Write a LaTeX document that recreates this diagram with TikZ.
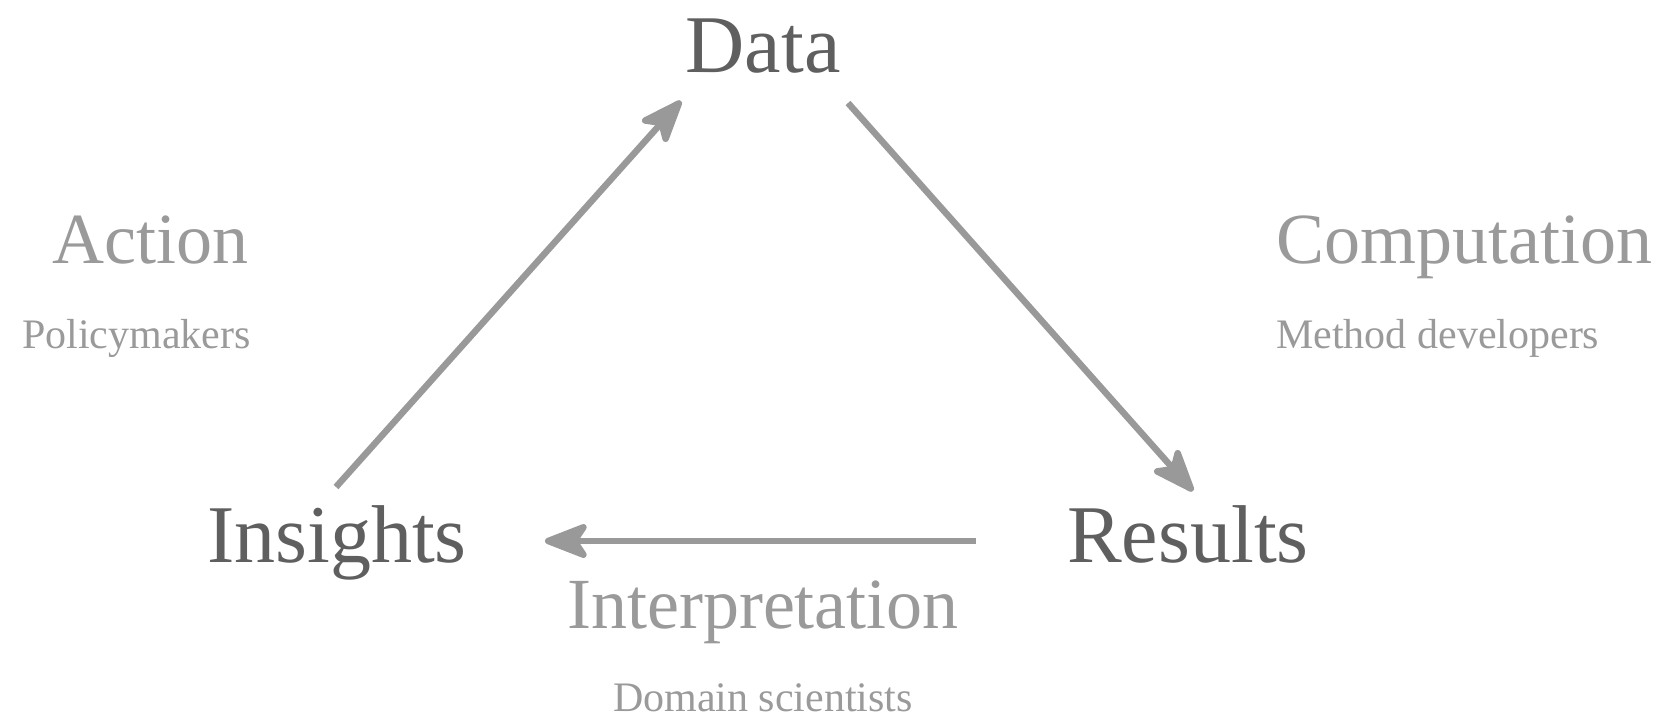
\documentclass[tikz,border=0pt]{standalone}
\usepackage{fontspec}
\setmainfont{Liberation Serif}
\usetikzlibrary{arrows.meta}
\definecolor{stagetext}{HTML}{5F5F5F}
\definecolor{roletext}{HTML}{9A9A9A}
\definecolor{flowline}{HTML}{999999}
\begin{document}
\begin{tikzpicture}[x=1pt,y=-1pt,
  stage/.style={inner sep=0pt,text=stagetext,font=\fontsize{82}{96}\selectfont},
  task/.style={inner sep=0pt,text=roletext,font=\fontsize{72}{84}\selectfont},
  who/.style={inner sep=0pt,text=roletext,font=\fontsize{42}{50}\selectfont},
  flow/.style={draw=flowline,line width=6.5pt,
    -{Stealth[length=52pt,width=40pt,inset=13pt,round]}}]
  \useasboundingbox (0,0) rectangle (1667,720);

  % the three stages of the cycle
  \node[stage,anchor=base] (data) at (763,72) {Data};
  \node[stage,anchor=base] (insights) at (337,562) {Insights};
  \node[stage,anchor=base] (results) at (1188,562) {Results};

  % what happens along each edge, and who does it
  \node[task,anchor=base east] (action) at (249,263) {Action};
  \node[who,anchor=base east] (policy) at (251,348) {Policymakers};
  \node[task,anchor=base west] (computation) at (1276,263) {Computation};
  \node[who,anchor=base west] (methods) at (1276,348) {Method developers};
  \node[task,anchor=base] (interpretation) at (763,628) {Interpretation};
  \node[who,anchor=base] (domain) at (763,711) {Domain scientists};

  % arrow end points
  \coordinate (insights-out) at (336,487);
  \coordinate (data-in) at (681,101);
  \coordinate (data-out) at (848,103);
  \coordinate (results-in) at (1193,491);
  \coordinate (results-out) at (976,541);
  \coordinate (insights-in) at (545,541);

  \draw[flow] (insights-out) -- (data-in);
  \draw[flow] (data-out) -- (results-in);
  \draw[flow] (results-out) -- (insights-in);
\end{tikzpicture}
\end{document}
